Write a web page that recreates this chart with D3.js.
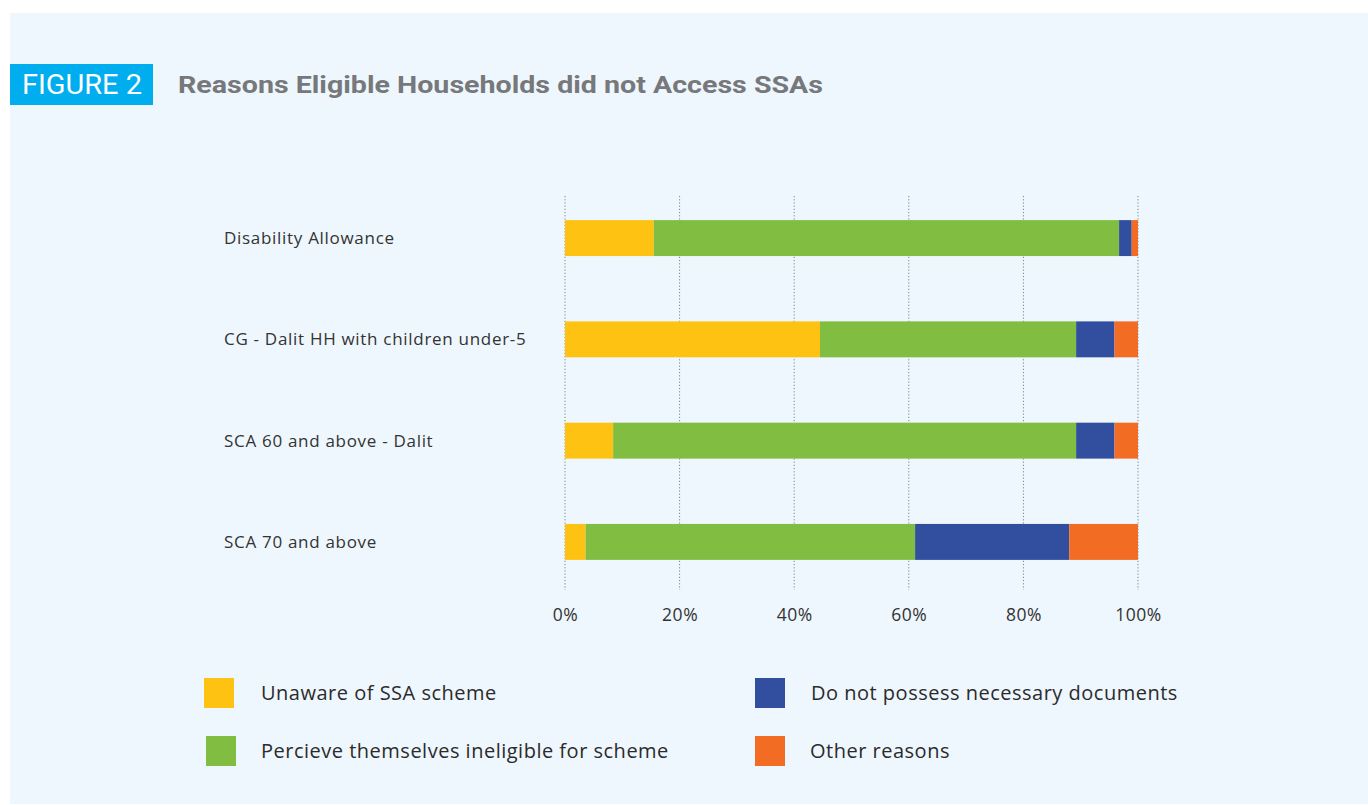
<!DOCTYPE html>
<html>
<head>
<meta charset="utf-8">
<script src="https://cdn.jsdelivr.net/npm/d3@7"></script>
<style>
  html, body { margin: 0; padding: 0; background: #ffffff; }
  svg { display: block; }
</style>
</head>
<body>
<svg id="chart" width="1368" height="805"></svg>
<script>
// Categories (top to bottom) and share of each reason, in percent
const categories = [
  "Disability Allowance",
  "CG - Dalit HH with children under-5",
  "SCA 60 and above - Dalit",
  "SCA 70 and above"
];
const unaware    = [15.5, 44.5,  8.4,  3.6];
const ineligible = [81.2, 44.7, 80.8, 57.5];
const noDocs     = [ 2.2,  6.7,  6.7, 26.9];
const other      = [ 1.1,  4.1,  4.1, 12.0];

const seriesNames = [
  "Unaware of SSA scheme",
  "Percieve themselves ineligible for scheme",
  "Do not possess necessary documents",
  "Other reasons"
];
const seriesColors = ["#fec312", "#80bd41", "#314e9f", "#f26c23"];
const tickValues = [0, 20, 40, 60, 80, 100];

const svg = d3.select("#chart");
const lightFont = "'Open Sans', Roboto, sans-serif";

// Panel background
svg.append("rect")
  .attr("x", 10).attr("y", 13)
  .attr("width", 1358).attr("height", 791)
  .attr("fill", "#eef7fd");

// Heading
svg.append("rect")
  .attr("x", 10).attr("y", 64)
  .attr("width", 143).attr("height", 41)
  .attr("fill", "#00aeef");
svg.append("text")
  .attr("x", 22).attr("y", 94)
  .attr("fill", "#ffffff")
  .attr("font-family", "'Liberation Sans Narrow', Roboto, sans-serif")
  .attr("font-size", 27)
  .attr("textLength", 120)
  .attr("lengthAdjust", "spacingAndGlyphs")
  .text("FIGURE 2");
svg.append("text")
  .attr("x", 178).attr("y", 93)
  .attr("fill", "#77787b")
  .attr("font-family", "Roboto, sans-serif")
  .attr("font-weight", 700)
  .attr("font-size", 24)
  .attr("textLength", 645)
  .attr("lengthAdjust", "spacingAndGlyphs")
  .text("Reasons Eligible Households did not Access SSAs");

// Scales
const x = d3.scaleLinear().domain([0, 100]).range([565, 1138]);
const y = d3.scaleBand().domain(categories).range([188, 592]).paddingInner(0.645).paddingOuter(0.317);

// Dotted gridlines
svg.append("g")
  .selectAll("line")
  .data(tickValues)
  .join("line")
  .attr("x1", d => x(d)).attr("x2", d => x(d))
  .attr("y1", 196).attr("y2", 590)
  .attr("stroke", "#7d8288")
  .attr("stroke-width", 1)
  .attr("stroke-dasharray", "1.2,2");

// Stacked bars
const rows = categories.map((c, i) => ({
  cat: c,
  s0: unaware[i], s1: ineligible[i], s2: noDocs[i], s3: other[i]
}));
const stack = d3.stack().keys(["s0", "s1", "s2", "s3"]);
const layers = stack(rows);

svg.append("g")
  .selectAll("g")
  .data(layers)
  .join("g")
  .attr("fill", (d, i) => seriesColors[i])
  .selectAll("rect")
  .data(d => d)
  .join("rect")
  .attr("x", d => x(d[0]))
  .attr("y", d => y(d.data.cat))
  .attr("width", d => x(d[1]) - x(d[0]))
  .attr("height", y.bandwidth());

// Category labels
svg.append("g")
  .selectAll("text")
  .data(categories)
  .join("text")
  .attr("x", 224)
  .attr("y", d => y(d) + y.bandwidth() / 2)
  .attr("dy", "0.35em")
  .attr("fill", "#333333")
  .attr("font-family", lightFont)
  .attr("font-size", 17)
  .attr("letter-spacing", 0.7)
  .text(d => d);

// Bottom axis
const axis = d3.axisBottom(x)
  .tickValues(tickValues)
  .tickFormat(d => d + "%")
  .tickSize(0)
  .tickPadding(0);
const axisG = svg.append("g")
  .attr("transform", "translate(0,603)")
  .call(axis);
axisG.select(".domain").remove();
axisG.selectAll("text")
  .attr("fill", "#333333")
  .attr("font-family", lightFont)
  .attr("font-size", 17.5)
  .attr("letter-spacing", 0.5)
  .attr("dy", "1em");

// Legend
const legendItems = [
  { i: 0, sx: 204, sy: 678, tx: 261 },
  { i: 1, sx: 206, sy: 736, tx: 261 },
  { i: 2, sx: 755, sy: 678, tx: 811 },
  { i: 3, sx: 755, sy: 736, tx: 810 }
];
const lg = svg.append("g")
  .selectAll("g")
  .data(legendItems)
  .join("g");
lg.append("rect")
  .attr("x", d => d.sx).attr("y", d => d.sy)
  .attr("width", 30).attr("height", 30)
  .attr("fill", d => seriesColors[d.i]);
lg.append("text")
  .attr("x", d => d.tx)
  .attr("y", d => d.sy + 15)
  .attr("dy", "0.35em")
  .attr("fill", "#2b2b2b")
  .attr("font-family", lightFont)
  .attr("font-size", 20)
  .attr("letter-spacing", 0.5)
  .text(d => seriesNames[d.i]);
</script>
</body>
</html>
